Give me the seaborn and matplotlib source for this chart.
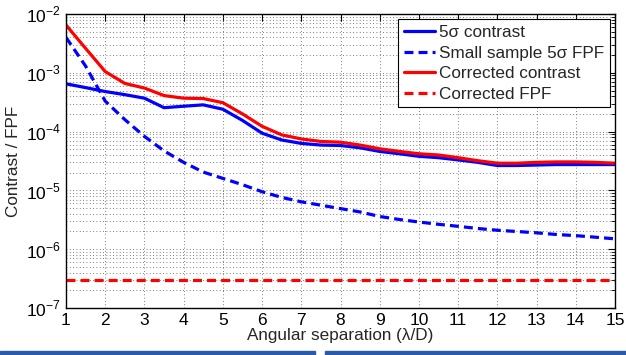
import numpy as np
import pandas as pd
import matplotlib
matplotlib.use("Agg")
import matplotlib.pyplot as plt
import seaborn as sns
from matplotlib.patches import Rectangle

# angular separation (lambda/D), half steps from 1 to 15
sep = [1, 1.5, 2, 2.5, 3, 3.5, 4, 4.5, 5, 5.5, 6, 6.5, 7, 7.5, 8, 8.5, 9, 9.5,
       10, 10.5, 11, 11.5, 12, 12.5, 13, 13.5, 14, 14.5, 15]

contrast_5sigma = [6.5e-4, 5.6e-4, 4.8e-4, 4.25e-4, 3.7e-4, 2.55e-4, 2.7e-4, 2.85e-4, 2.4e-4, 1.55e-4,
                   9.4e-5, 7.2e-5, 6.3e-5, 5.9e-5, 5.8e-5, 5.3e-5, 4.6e-5, 4.2e-5,
                   3.8e-5, 3.6e-5, 3.3e-5, 3.0e-5, 2.65e-5, 2.65e-5, 2.7e-5, 2.75e-5, 2.75e-5, 2.75e-5, 2.75e-5]
small_sample_fpf = [4.0e-3, 1.3e-3, 3.3e-4, 1.6e-4, 8.3e-5, 4.7e-5, 3.0e-5, 2.05e-5, 1.6e-5, 1.25e-5,
                    9.5e-6, 7.6e-6, 6.4e-6, 5.6e-6, 4.9e-6, 4.3e-6, 3.6e-6, 3.2e-6,
                    2.9e-6, 2.65e-6, 2.45e-6, 2.25e-6, 2.1e-6, 2.0e-6, 1.9e-6, 1.78e-6, 1.7e-6, 1.6e-6, 1.5e-6]
corrected_contrast = [6.5e-3, 2.6e-3, 1.05e-3, 6.6e-4, 5.5e-4, 4.1e-4, 3.7e-4, 3.65e-4, 3.1e-4, 2.0e-4,
                      1.23e-4, 8.8e-5, 7.5e-5, 6.8e-5, 6.6e-5, 5.9e-5, 5.1e-5, 4.6e-5,
                      4.2e-5, 4.0e-5, 3.6e-5, 3.2e-5, 2.9e-5, 2.9e-5, 3.0e-5, 3.05e-5, 3.05e-5, 3.0e-5, 2.9e-5]
corrected_fpf = [3e-7] * len(sep)

labels = ["5σ contrast", "Small sample 5σ FPF", "Corrected contrast", "Corrected FPF"]
series = [contrast_5sigma, small_sample_fpf, corrected_contrast, corrected_fpf]

df = pd.DataFrame({
    "sep": sep * 4,
    "value": sum(series, []),
    "curve": sum([[lab] * len(sep) for lab in labels], []),
})

sns.set_style("white")
plt.rcParams["font.family"] = ["Liberation Sans", "DejaVu Sans"]
plt.rcParams["mathtext.fontset"] = "custom"
plt.rcParams["mathtext.rm"] = "Liberation Sans"

fig = plt.figure(figsize=(6.26, 3.55), dpi=100)
ax = fig.add_axes([66 / 626, 1 - 308 / 355, 549 / 626, 294 / 355])

palette = {labels[0]: "#0000ff", labels[1]: "#0000ff", labels[2]: "#ff0000", labels[3]: "#ff0000"}
dashes = {labels[0]: "", labels[1]: (2.8, 1.6), labels[2]: "", labels[3]: (2.8, 1.6)}
sns.lineplot(data=df, x="sep", y="value", hue="curve", style="curve", hue_order=labels,
             style_order=labels, palette=palette, dashes=dashes, linewidth=2.3, ax=ax)
for ln in ax.get_lines():
    ln.set_solid_joinstyle("round")
    ln.set_dash_capstyle("butt")

ax.set_yscale("log")
ax.set_xlim(1, 15)
ax.set_ylim(1e-7, 1e-2)
ax.set_xticks(range(1, 16))
ax.set_xticklabels([str(i) for i in range(1, 16)])
ax.set_yticks([1e-7, 1e-6, 1e-5, 1e-4, 1e-3, 1e-2])
ax.set_yticklabels([r"$10^{-%d}$" % k for k in [7, 6, 5, 4, 3, 2]])

ax.grid(True, which="major", axis="both", linestyle=(0, (1, 3)), color="#555555", linewidth=0.6)
ax.grid(True, which="minor", axis="y", linestyle=(0, (1, 3)), color="#555555", linewidth=0.6)
ax.tick_params(which="both", direction="in", top=True, right=True, labelsize=12.5, colors="black")
ax.tick_params(which="major", length=5, width=0.8)
ax.tick_params(which="minor", length=3, width=0.6)
ax.tick_params(axis="x", which="minor", bottom=False, top=False)
for s in ax.spines.values():
    s.set_color("black")
    s.set_linewidth(1.0)

ax.set_xlabel("Angular separation (λ/D)", fontsize=12.3, labelpad=0)
ax.set_ylabel("Contrast / FPF", fontsize=12.3, labelpad=4)

leg = ax.legend(loc="upper right", fontsize=12.3, frameon=True, fancybox=False,
                edgecolor="black", borderaxespad=0.3, handlelength=1.8,
                handletextpad=0.25, labelspacing=0.32, borderpad=0.35)
leg.get_frame().set_linewidth(0.8)
leg.get_frame().set_alpha(1)

# blue page bars at the bottom
fig.patches.append(Rectangle((0, 0), 315 / 626, 4 / 355, transform=fig.transFigure,
                             color="#2d5aa8", zorder=0))
fig.patches.append(Rectangle((325 / 626, 0), 301 / 626, 4 / 355, transform=fig.transFigure,
                             color="#2d5aa8", zorder=0))

fig.savefig("out.png", dpi=100)
